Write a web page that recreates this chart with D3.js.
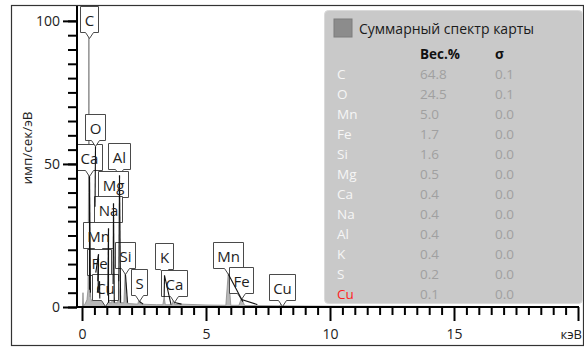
<!DOCTYPE html>
<html>
<head>
<meta charset="utf-8">
<script src="https://cdnjs.cloudflare.com/ajax/libs/d3/7.8.5/d3.min.js"></script>
<style>
  body { margin: 0; background: #fff; }
  svg { display: block; font-family: 'Open Sans', sans-serif; }
</style>
</head>
<body>
<div id="chart"></div>
<script>
// spectrum: [keV, counts per eV]
const spectrum = [
  [0.00, 0], [0.02, 0.3], [0.04, 5], [0.06, 0.4], [0.12, 1.0], [0.20, 2.5], [0.24, 6],
  [0.262, 40], [0.277, 190], [0.292, 40], [0.31, 6], [0.33, 3.5], [0.341, 5], [0.355, 3],
  [0.40, 2], [0.47, 3], [0.50, 16], [0.525, 35], [0.55, 12], [0.58, 4], [0.62, 5],
  [0.637, 9], [0.66, 5], [0.69, 5], [0.705, 6], [0.725, 3], [0.80, 2], [0.88, 1.5],
  [0.93, 3], [0.96, 1.5], [1.00, 1.5], [1.041, 4], [1.08, 1.5], [1.20, 1.5], [1.254, 8],
  [1.30, 1.5], [1.44, 1.5], [1.487, 9], [1.535, 1.5], [1.69, 1.5], [1.74, 12], [1.79, 1.5],
  [1.90, 1.2], [2.25, 1.0], [2.307, 3], [2.36, 1.0], [3.00, 0.8], [3.26, 0.8], [3.313, 3.5],
  [3.36, 0.8], [3.64, 0.8], [3.691, 3], [3.74, 0.8], [4.01, 1.0], [5.00, 0.7], [5.80, 0.6],
  [5.899, 12], [6.00, 0.6], [6.33, 0.6], [6.404, 2.5], [6.49, 1.8], [6.56, 0.5], [7.00, 0.5],
  [7.058, 0.9], [7.12, 0.5], [7.95, 0.4], [8.048, 1.2], [8.14, 0.4], [10, 0.3], [15, 0.2], [20, 0.1]
];

// peak labels
const labelElements = ['C', 'Ca', 'O', 'Al', 'Mg', 'Na', 'Mn', 'Fe', 'Cu', 'Si', 'S', 'K', 'Ca', 'Mn', 'Fe', 'Cu'];
const labelEnergies = [0.277, 0.300, 0.525, 1.487, 1.254, 1.041, 0.637, 0.705, 0.930, 1.740, 2.307, 3.313, 3.691, 5.899, 6.404, 8.048];
const labelLevels = [96.1, 47.9, 58.4, 48.2, 38.4, 29.7, 20.6, 11.2, 2.4, 13.6, 4.2, 13.3, 3.8, 13.6, 4.9, 2.4];
const labelLines = [
  [0.277], [0.302, 0.341], [0.525], [1.487, 1.557], [1.254, 1.302], [1.041, 1.071],
  [0.556, 0.637, 0.649], [0.615, 0.705, 0.718], [0.811, 0.930, 0.950], [1.740, 1.836],
  [2.307, 2.464], [3.313, 3.590], [3.691, 4.013], [5.899, 6.490], [6.404, 7.058], [8.048, 8.905]
];

// results table
const elements = ['C', 'O', 'Mn', 'Fe', 'Si', 'Mg', 'Ca', 'Na', 'Al', 'K', 'S', 'Cu'];
const weightPct = ['64.8', '24.5', '5.0', '1.7', '1.6', '0.5', '0.4', '0.4', '0.4', '0.4', '0.2', '0.1'];
const sigmas = ['0.1', '0.1', '0.0', '0.0', '0.0', '0.0', '0.0', '0.0', '0.0', '0.0', '0.0', '0.0'];

const xTicks = [0, 5, 10, 15];
const yTicks = [0, 50, 100];

const width = 584, height = 347;
const svg = d3.select('#chart').append('svg')
  .attr('width', width)
  .attr('height', height);

const x = d3.scaleLinear().domain([0, 20]).range([82, 578]);
const y = d3.scaleLinear().domain([0, 105.2]).range([307, 6]);

// outer frame
svg.append('rect')
  .attr('x', 11.5).attr('y', 5.5)
  .attr('width', 572).attr('height', 340)
  .attr('fill', 'none')
  .attr('stroke', '#333')
  .attr('stroke-width', 1.2);

svg.append('clipPath').attr('id', 'plot')
  .append('rect').attr('x', 77).attr('y', 6).attr('width', 505).attr('height', 301);

// spectrum
const area = d3.area()
  .x(d => x(d[0]))
  .y0(y(0))
  .y1(d => y(d[1]));

svg.append('path')
  .datum(spectrum)
  .attr('clip-path', 'url(#plot)')
  .attr('d', area)
  .attr('fill', '#b8b8b8')
  .attr('stroke', '#8a8a8a')
  .attr('stroke-width', 0.8);

// legend panel
svg.append('rect')
  .attr('x', 324.5).attr('y', 10.5)
  .attr('width', 258).attr('height', 293)
  .attr('rx', 4)
  .attr('fill', '#c9c9c9')
  .attr('stroke', '#dadada');

svg.append('rect')
  .attr('x', 334).attr('y', 19)
  .attr('width', 18).attr('height', 18)
  .attr('fill', '#8c8c8c')
  .attr('stroke', '#7c7c7c');

svg.append('text')
  .attr('x', 359).attr('y', 34)
  .attr('font-size', 14).attr('fill', '#1a1a1a')
  .text('Суммарный спектр карты');

svg.append('text')
  .attr('x', 420).attr('y', 59)
  .attr('font-size', 13.5).attr('font-weight', 'bold').attr('fill', '#111')
  .text('Вес.%');
svg.append('text')
  .attr('x', 495).attr('y', 59)
  .attr('font-size', 13.5).attr('font-weight', 'bold').attr('fill', '#111')
  .text('σ');

const rows = svg.append('g').attr('font-size', 13.5);
elements.forEach((el, i) => {
  const ry = 79 + i * 20;
  rows.append('text').attr('x', 337).attr('y', ry)
    .attr('fill', el === 'Cu' ? '#ff1e1e' : '#f6f6f6').text(el);
  rows.append('text').attr('x', 420).attr('y', ry).attr('fill', '#a0a0a0').text(weightPct[i]);
  rows.append('text').attr('x', 495).attr('y', ry).attr('fill', '#a0a0a0').text(sigmas[i]);
});

// peak callouts: boxes first, leaders on top, then text
const nearest = e => spectrum.reduce((a, b) => Math.abs(b[0] - e) < Math.abs(a[0] - e) ? b : a);
const callouts = svg.append('g');
const boxes = callouts.append('g');
const leaders = callouts.append('g');
const texts = callouts.append('g');

labelElements.forEach((el, i) => {
  const cx = Math.round(x(labelEnergies[i])) + 0.5;
  const bottom = Math.round(y(labelLevels[i])) + 0.5;
  const top = bottom - 26;
  const t = texts.append('text')
    .attr('x', cx).attr('y', top + 19)
    .attr('text-anchor', 'middle')
    .attr('font-size', 15).attr('fill', '#1e1e1e')
    .text(el);
  const half = Math.round(t.node().getComputedTextLength() / 2) + 4;
  const tipY = bottom + 6;
  boxes.append('path')
    .attr('d', `M${cx - half},${top}H${cx + half}V${bottom}H${cx + 4}L${cx},${tipY}L${cx - 4},${bottom}H${cx - half}Z`)
    .attr('fill', '#fff')
    .attr('stroke', '#4a4a4a')
    .attr('stroke-width', 1);
  labelLines[i].forEach(e => {
    const py = y(nearest(e)[1]);
    if (py <= tipY) return;
    leaders.append('line')
      .attr('x1', cx).attr('y1', tipY)
      .attr('x2', x(e)).attr('y2', py)
      .attr('stroke', '#111')
      .attr('stroke-width', 1.1);
  });
});

// y axis
const yAxis = svg.append('g').attr('transform', 'translate(77,0)');
yAxis.append('g')
  .call(d3.axisLeft(y).tickValues(d3.range(0, 105, 5)).tickSize(9).tickSizeOuter(0).tickFormat(''))
  .call(g => g.select('.domain').remove())
  .call(g => g.selectAll('line').attr('stroke', '#000').attr('stroke-width', 2));
yAxis.append('g')
  .call(d3.axisLeft(y).tickValues(yTicks).tickSize(14).tickPadding(3).tickSizeOuter(0))
  .call(g => g.select('.domain').remove())
  .call(g => g.selectAll('line').attr('stroke', '#000').attr('stroke-width', 2))
  .call(g => g.selectAll('text').attr('font-size', 14).attr('fill', '#222').attr('font-family', 'Open Sans'));
yAxis.append('line')
  .attr('x1', 0).attr('x2', 0).attr('y1', 6).attr('y2', 308)
  .attr('stroke', '#000').attr('stroke-width', 2);

// x axis
const xAxis = svg.append('g').attr('transform', 'translate(0,307)');
xAxis.append('g')
  .call(d3.axisBottom(x).tickValues(d3.range(0.5, 20, 0.5).filter(v => v % 5 !== 0)).tickSize(8).tickSizeOuter(0).tickFormat(''))
  .call(g => g.select('.domain').remove())
  .call(g => g.selectAll('line').attr('stroke', '#000').attr('stroke-width', 2));
xAxis.append('g')
  .call(d3.axisBottom(x).tickValues(xTicks.concat([20])).tickSize(14).tickPadding(8).tickSizeOuter(0)
    .tickFormat(d => d === 20 ? '' : d))
  .call(g => g.select('.domain').remove())
  .call(g => g.selectAll('line').attr('stroke', '#000').attr('stroke-width', 2))
  .call(g => g.selectAll('text').attr('font-size', 14).attr('fill', '#222').attr('font-family', 'Open Sans'));
xAxis.append('line')
  .attr('x1', 76).attr('x2', 579).attr('y1', 0).attr('y2', 0)
  .attr('stroke', '#000').attr('stroke-width', 2);

svg.append('text')
  .attr('x', 582).attr('y', 339)
  .attr('text-anchor', 'end')
  .attr('font-size', 13).attr('fill', '#222')
  .text('кэВ');

svg.append('text')
  .attr('transform', 'translate(32,148) rotate(-90)')
  .attr('text-anchor', 'middle')
  .attr('font-size', 13.5).attr('fill', '#222')
  .text('имп/сек/эВ');
</script>
</body>
</html>
